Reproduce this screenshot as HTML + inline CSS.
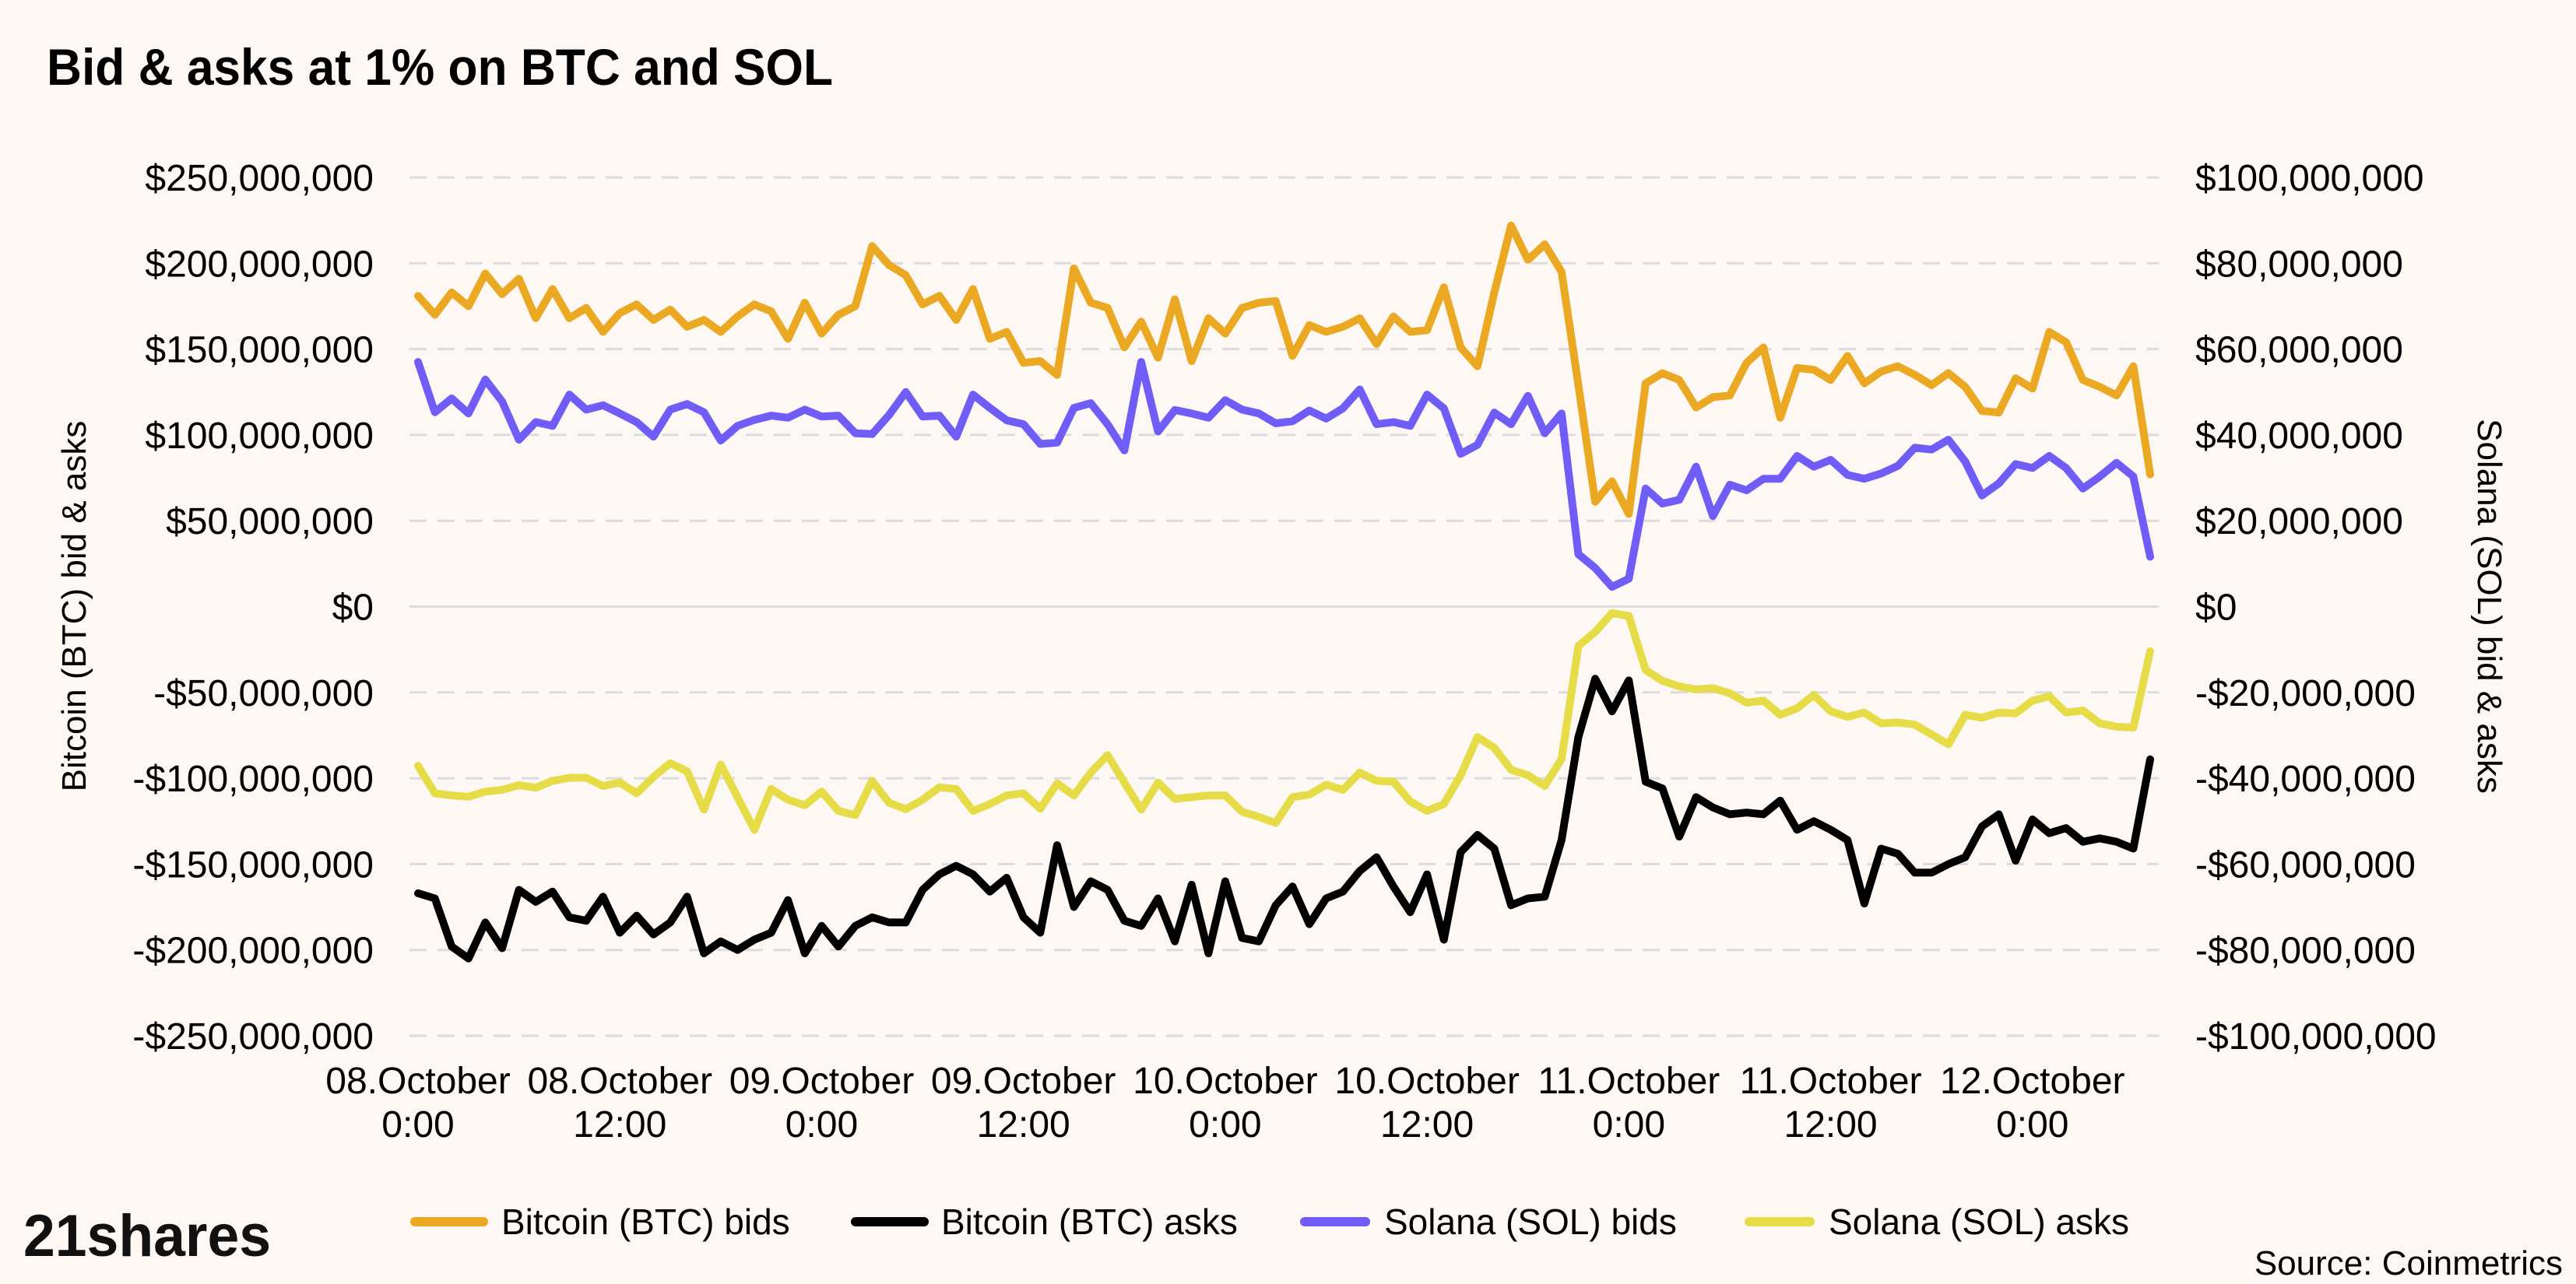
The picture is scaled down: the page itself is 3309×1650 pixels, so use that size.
<!DOCTYPE html>
<html><head><meta charset="utf-8"><style>
html,body{margin:0;padding:0;background:#fdf8f4;}
svg{display:block;font-family:"Liberation Sans",sans-serif;}
</style></head><body>
<svg id="chart" width="3309" height="1650" viewBox="0 0 3309 1650" xmlns="http://www.w3.org/2000/svg">
<rect width="3309" height="1650" fill="#fdf8f4"/>
<text x="60" y="109" font-size="66" font-weight="bold" fill="#000" textLength="1010" lengthAdjust="spacingAndGlyphs">Bid &amp; asks at 1% on BTC and SOL</text>
<g id="grid"></g>
<g id="yleft"></g>
<g id="yright"></g>
<g id="xaxis"></g>
<g id="series"></g>
<text transform="translate(110,779) rotate(-90)" text-anchor="middle" font-size="44" fill="#000">Bitcoin (BTC) bid &amp; asks</text>
<text transform="translate(3183,779) rotate(90)" text-anchor="middle" font-size="44" fill="#000">Solana (SOL) bid &amp; asks</text>
<g>
 <g><line x1="533" y1="1570" x2="621" y2="1570" stroke="#eba823" stroke-width="12" stroke-linecap="round"/><text x="644" y="1586" font-size="46">Bitcoin (BTC) bids</text></g>
 <g><line x1="1099" y1="1570" x2="1187" y2="1570" stroke="#000" stroke-width="12" stroke-linecap="round"/><text x="1209" y="1586" font-size="46">Bitcoin (BTC) asks</text></g>
 <g><line x1="1676" y1="1570" x2="1754" y2="1570" stroke="#705cf7" stroke-width="12" stroke-linecap="round"/><text x="1778" y="1586" font-size="46">Solana (SOL) bids</text></g>
 <g><line x1="2247" y1="1570" x2="2325" y2="1570" stroke="#e5dc48" stroke-width="12" stroke-linecap="round"/><text x="2349" y="1586" font-size="46">Solana (SOL) asks</text></g>
</g>
<text x="30" y="1614" font-size="76" font-weight="bold" fill="#111" textLength="318" lengthAdjust="spacingAndGlyphs">21shares</text>
<text x="3292" y="1638" text-anchor="end" font-size="44" fill="#000">Source: Coinmetrics</text>
</svg>
<script>
const btcBids = [181,170,183,175,194,182,191,168,185,168,174,160,171,176,167,173,163,167,160,169,176,172,156,177,
159,170,175,210,199,193,176,181,167,185,156,160,142,143,135,197,177,174,151,166,145,179,143,168,159,174,177,
178,146,164,160,163,168,153,169,160,161,186,151,140,183,222,202,211,195,129,61,73,54,130,136,132,116,122,
123,142,151,110,139,138,132,146,130,137,140,135,129,136,128,114,113,133,127,160,154,132,128,123,140,77];
const btcAsks = [-167,-170,-198,-205,-184,-199,-165,-172,-166,-181,-183,-169,-190,-180,-191,-184,-169,-202,-195,-200,-194,-190,-171,-202,
-186,-198,-186,-181,-184,-184,-165,-156,-151,-156,-166,-158,-181,-190,-139,-175,-160,-165,-183,-186,-170,-195,-162,-202,-160,-193,-195,
-174,-163,-185,-170,-166,-154,-146,-163,-178,-156,-194,-143,-133,-141,-174,-170,-169,-136,-76,-42,-61,-43,-102,-106,-134,-111,-117,
-121,-120,-121,-113,-130,-125,-130,-136,-173,-141,-144,-155,-155,-150,-146,-128,-121,-148,-124,-132,-129,-137,-135,-137,-141,-89];
const solBids = [57.0,45.3,48.5,45.0,52.9,47.8,38.9,43.0,42.1,49.4,45.9,46.9,45.0,43.0,39.6,45.9,47.2,45.3,38.7,42.1,43.5,44.5,44.0,45.9,
44.3,44.5,40.4,40.2,44.6,50.0,44.3,44.5,39.6,49.4,46.3,43.4,42.5,37.9,38.2,46.3,47.4,42.5,36.4,57.0,40.8,45.8,45.0,44.0,48.1,45.9,45,
42.7,43.2,45.7,43.8,46.2,50.6,42.5,43.0,42.1,49.4,46.2,35.6,37.7,45.2,42.5,49.1,40.4,45.0,12.2,9.0,4.6,6.5,27.5,24.0,24.9,32.6,21.1,
28.4,27.1,29.8,29.8,35.1,32.6,34.2,30.7,29.8,31.0,32.8,37.0,36.6,38.9,33.8,25.9,28.7,33.2,32.3,35.1,32.3,27.5,30.3,33.5,30.3,11.6];
const solAsks = [-37.1,-43.5,-44.0,-44.3,-43.1,-42.7,-41.6,-42.2,-40.6,-39.9,-39.9,-41.8,-41.0,-43.5,-39.7,-36.5,-38.4,-47.3,-36.8,-44.4,-52.0,-42.5,-45.0,-46.3,
-43.1,-47.6,-48.6,-40.6,-45.7,-47.2,-45.0,-42.1,-42.5,-47.6,-46.0,-44.0,-43.5,-47.1,-41.2,-44.0,-38.7,-34.6,-41.0,-47.3,-41.0,-44.8,-44.4,-44.0,-44.0,-47.8,-49,
-50.4,-44.4,-43.8,-41.5,-42.7,-38.7,-40.6,-40.8,-45.4,-47.6,-46.0,-39.3,-30.4,-32.9,-38.0,-39.3,-41.8,-35.5,-9.2,-5.9,-1.5,-2.2,-14.8,-17.3,-18.6,-19.3,-19.0,
-20.2,-22.4,-21.9,-25.2,-23.7,-20.6,-24.4,-25.7,-24.7,-27.2,-27.0,-27.5,-29.8,-32.1,-25.2,-25.9,-24.7,-24.9,-21.9,-20.9,-24.7,-24.2,-27.2,-28.0,-28.2,-10.4];
const leftTicks = [250,200,150,100,50,0,-50,-100,-150,-200,-250];
const leftTickLabels = ["$250,000,000","$200,000,000","$150,000,000","$100,000,000","$50,000,000","$0","-$50,000,000","-$100,000,000","-$150,000,000","-$200,000,000","-$250,000,000"];
const rightTickLabels = ["$100,000,000","$80,000,000","$60,000,000","$40,000,000","$20,000,000","$0","-$20,000,000","-$40,000,000","-$60,000,000","-$80,000,000","-$100,000,000"];
const xTickIndex = [0,12,24,36,48,60,72,84,96];
const xTickLine1 = ["08.October","08.October","09.October","09.October","10.October","10.October","11.October","11.October","12.October"];
const xTickLine2 = ["0:00","12:00","0:00","12:00","0:00","12:00","0:00","12:00","0:00"];

const NS = "http://www.w3.org/2000/svg";
const X0 = 537, X1 = 2762, Y0 = 779.5, PX_PER_M = 551.5/250;
const n = btcBids.length;
function xs(i){ return X0 + (X1 - X0) * i / (n - 1); }
function yl(v){ return Y0 - v * PX_PER_M; }
function yr(v){ return Y0 - v * PX_PER_M * 2.5; }
function mk(tag, attrs, parent){ const e = document.createElementNS(NS, tag); for (const k in attrs) e.setAttribute(k, attrs[k]); parent.appendChild(e); return e; }

const grid = document.getElementById('grid'), yL = document.getElementById('yleft'), yR = document.getElementById('yright');
leftTicks.forEach((t, k) => {
  const y = yl(t);
  const ln = mk('line', {x1: 526, x2: 2773, y1: y, y2: y, stroke: '#dcdcdc', 'stroke-width': 3, 'stroke-dasharray': t === 0 ? 'none' : '22 14'}, grid);
  
  
  const a = mk('text', {x: 480, y: y + 17, 'text-anchor': 'end', 'font-size': 48, fill: '#000'}, yL);
  a.textContent = leftTickLabels[k];
  
  
  const b = mk('text', {x: 2820, y: y + 17, 'font-size': 48, fill: '#000'}, yR);
  b.textContent = rightTickLabels[k];
  
  
});
const xa = document.getElementById('xaxis');
xTickIndex.forEach((idx, k) => {
  const t = mk('text', {x: xs(idx), y: 1405, 'text-anchor': 'middle', 'font-size': 48, fill: '#000'}, xa);
  t.textContent = xTickLine1[k];
  
  
  const t2 = mk('text', {x: xs(idx), y: 1461, 'text-anchor': 'middle', 'font-size': 48, fill: '#000'}, xa);
  t2.textContent = xTickLine2[k];
  
  
});
const sg = document.getElementById('series');
function drawLine(vals, yf, color, name){
  const d = vals.map((v, i) => (i ? 'L' : 'M') + xs(i).toFixed(1) + ' ' + yf(v).toFixed(1)).join(' ');
  const p = mk('path', {d: d, fill: 'none', stroke: color, 'stroke-width': 10, 'stroke-linejoin': 'round', 'stroke-linecap': 'round'}, sg);
  
  
}
drawLine(solAsks, yr, '#e5dc48', 'sol-asks-line');
drawLine(btcAsks, yl, '#000000', 'btc-asks-line');
drawLine(solBids, yr, '#705cf7', 'sol-bids-line');
drawLine(btcBids, yl, '#eba823', 'btc-bids-line');
</script>
</body></html>
